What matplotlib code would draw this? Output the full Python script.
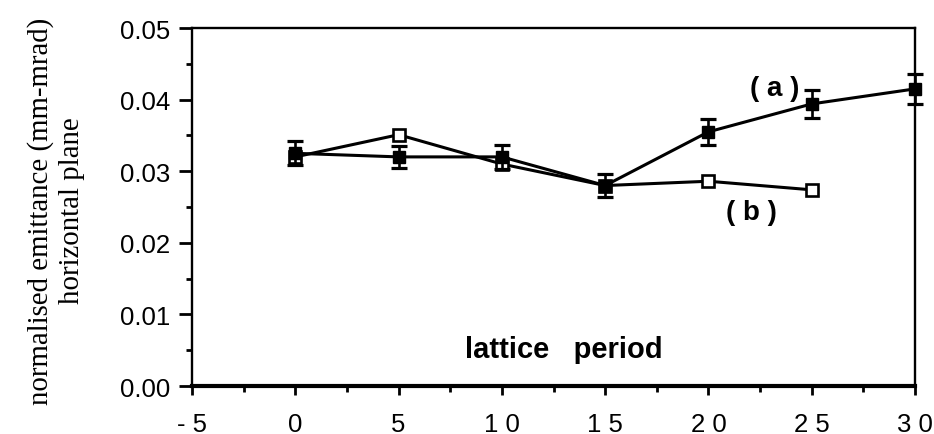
import matplotlib
matplotlib.use("Agg")
import matplotlib.pyplot as plt
from matplotlib.ticker import MultipleLocator

# lattice period values and normalised emittance readings
period = [0, 5, 10, 15, 20, 25, 30]
emit_a = [0.0325, 0.0320, 0.0320, 0.0280, 0.0355, 0.0394, 0.0415]
err_a = [0.0017, 0.0015, 0.0017, 0.0016, 0.0018, 0.0019, 0.0021]

period_b = [0, 5, 10, 15, 20, 25]
emit_b = [0.0320, 0.0351, 0.0310, 0.0280, 0.0286, 0.0274]

xticks = [-5, 0, 5, 10, 15, 20, 25, 30]
xtick_labels = ["- 5", "0", "5", "1 0", "1 5", "2 0", "2 5", "3 0"]
yticks = [0.00, 0.01, 0.02, 0.03, 0.04, 0.05]

fig = plt.figure(figsize=(9.34, 4.35), dpi=100)
ax = fig.add_axes([0.2056, 0.1103, 0.9797 - 0.2056, 0.9333 - 0.1103])

sans = ["Liberation Sans", "DejaVu Sans"]
serif = ["Liberation Serif", "DejaVu Serif"]

# series (b): open squares, no error bars
ax.plot(period_b, emit_b, color="k", lw=2.2, marker="s", ms=8.5,
        mfc="white", mec="k", mew=1.9, zorder=3)
# series (a): filled squares with error bars
ax.errorbar(period, emit_a, yerr=err_a, color="k", lw=2.2, marker="s", ms=8.5,
            mfc="k", mec="k", elinewidth=1.9, capsize=5.8, capthick=2.3,
            zorder=4, clip_on=False)

ax.set_xlim(-5, 30)
ax.set_ylim(0, 0.05)
ax.set_xticks(xticks)
ax.set_xticklabels(xtick_labels, fontfamily=sans, fontsize=18.5)
ax.set_yticks(yticks)
ax.set_yticklabels(["%.2f" % v for v in yticks], fontfamily=sans, fontsize=18.5)
ax.xaxis.set_minor_locator(MultipleLocator(2.5))
ax.yaxis.set_minor_locator(MultipleLocator(0.005))
ax.tick_params(axis="x", which="major", direction="out", length=6.5, width=2, pad=12)
ax.tick_params(axis="y", which="major", direction="out", length=9.5, width=2, pad=6)
ax.tick_params(axis="both", which="minor", direction="out", length=4, width=2)

for s in ax.spines.values():
    s.set_linewidth(1.7)
ax.spines["bottom"].set_linewidth(3)

ax.text(13.0, 0.0052, "lattice   period", fontfamily=sans, fontsize=21,
        fontweight="bold", ha="center", va="center")
ax.text(23.2, 0.0416, "( a )", fontfamily=sans, fontsize=20,
        fontweight="bold", ha="center", va="center")
ax.text(22.1, 0.0243, "( b )", fontfamily=sans, fontsize=20,
        fontweight="bold", ha="center", va="center")

fig.text(0.043, 0.515, "normalised emittance (mm-mrad)", rotation=90,
         fontfamily=serif, fontsize=20.8, ha="center", va="center")
fig.text(0.077, 0.515, "horizontal plane", rotation=90,
         fontfamily=serif, fontsize=20.8, ha="center", va="center")

fig.savefig("out.png", dpi=100)
